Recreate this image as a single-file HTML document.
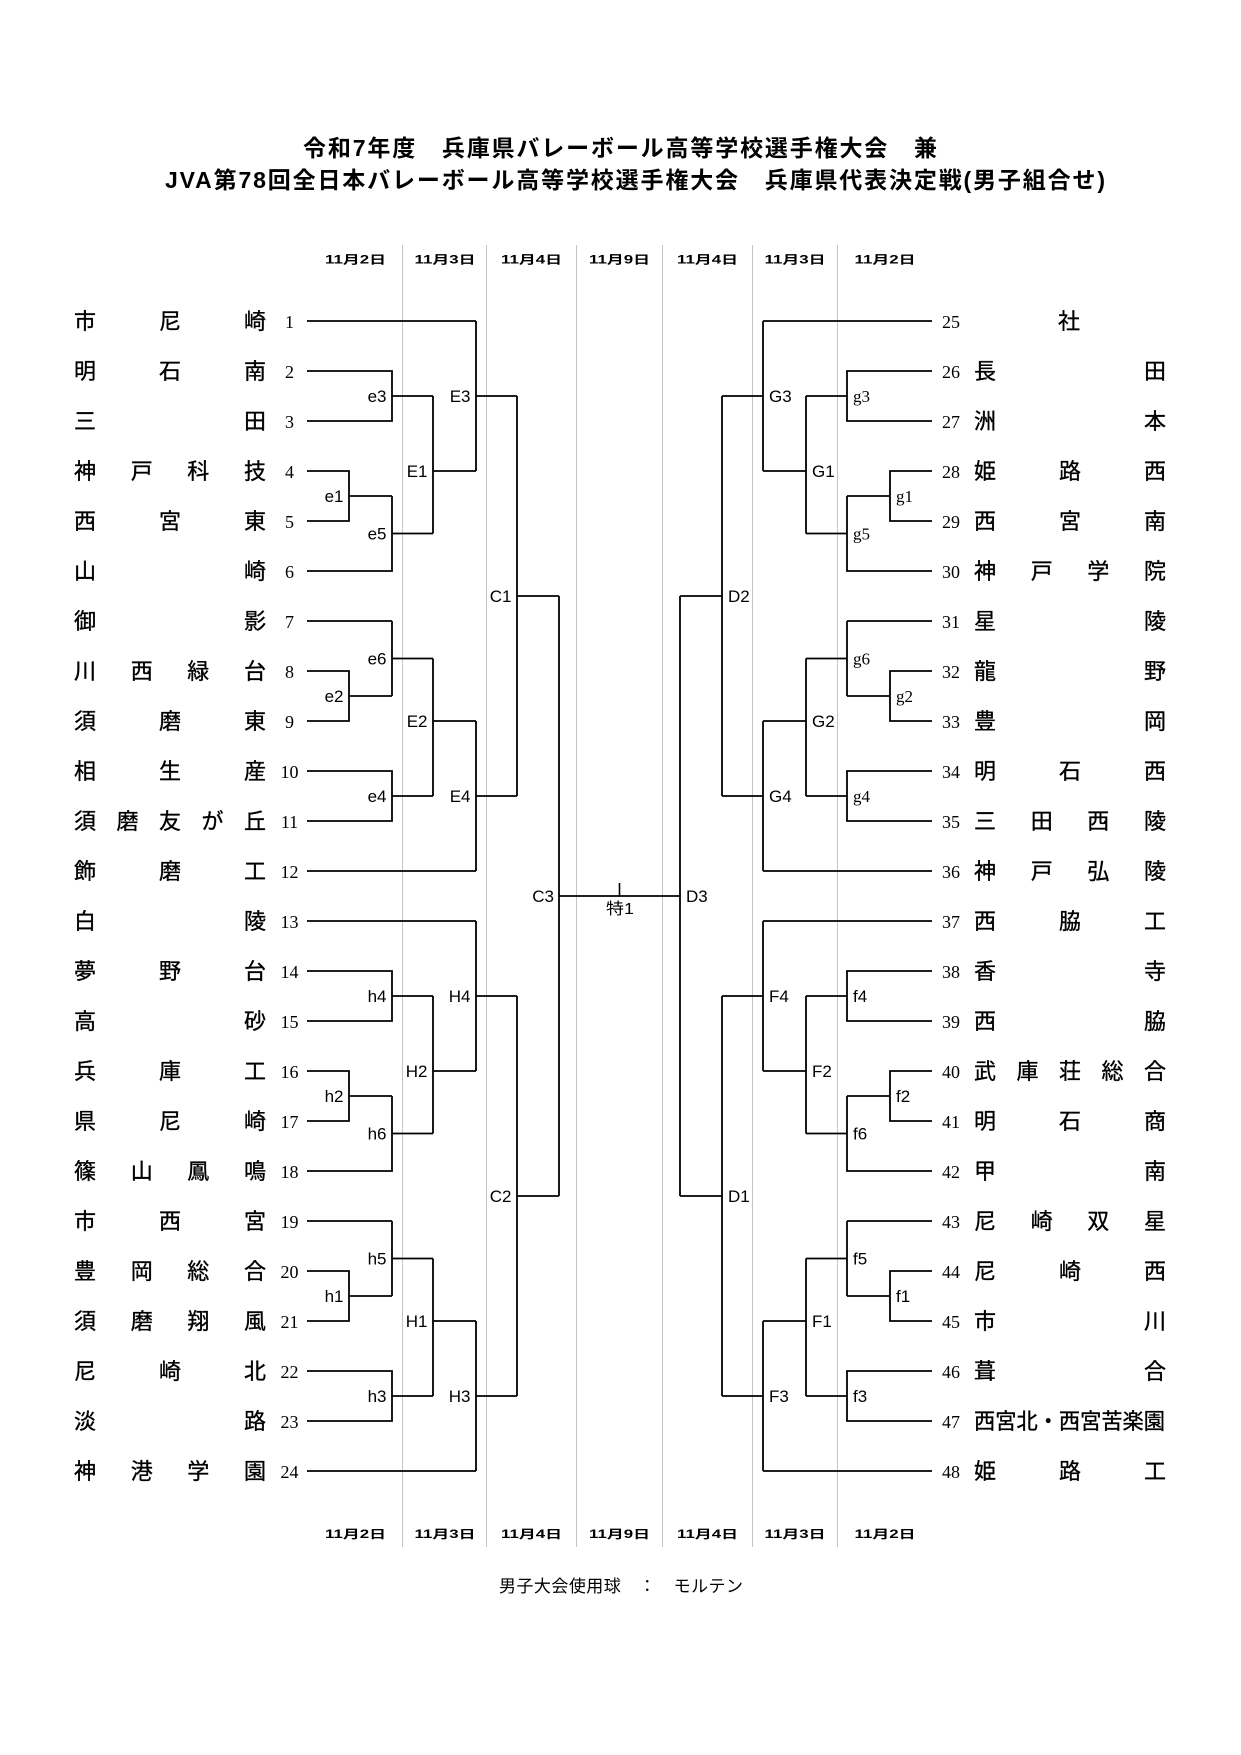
<!DOCTYPE html>
<html lang="ja">
<head>
<meta charset="utf-8">
<style>
html,body{margin:0;padding:0;background:#fff;}
body{width:1241px;height:1755px;overflow:hidden;}
svg{display:block;}
.nm{font-family:"Liberation Sans","Noto Sans CJK JP",sans-serif;font-size:22px;fill:#000;stroke:#000;stroke-width:0.35px;}
.no{font-family:"Liberation Serif","Noto Serif CJK SC",serif;font-size:18px;fill:#000;text-anchor:middle;}
.lbL{font-family:"Liberation Sans","Noto Sans CJK JP",sans-serif;font-size:17px;fill:#000;text-anchor:end;}
.lbR{font-family:"Liberation Sans","Noto Sans CJK JP",sans-serif;font-size:17px;fill:#000;text-anchor:start;}
.lbS{font-family:"Liberation Serif","Noto Serif CJK SC",serif;font-size:17px;fill:#000;text-anchor:start;}
.dt{font-family:"Liberation Sans","Noto Sans CJK JP",sans-serif;font-size:11.5px;font-weight:bold;fill:#000;}
.tt{font-family:"Liberation Sans","Noto Sans CJK JP",sans-serif;font-size:23px;font-weight:bold;fill:#000;}
.ft{font-family:"Liberation Sans","Noto Sans CJK JP",sans-serif;font-size:17px;fill:#000;}
</style>
</head>
<body>
<svg width="1241" height="1755" viewBox="0 0 1241 1755" xmlns="http://www.w3.org/2000/svg">
<rect width="1241" height="1755" fill="#fff"/>

<!-- Title -->
<text class="tt" x="303" y="156" textLength="634" lengthAdjust="spacing">令和7年度　兵庫県バレーボール高等学校選手権大会　兼</text>
<text class="tt" x="165" y="188" textLength="940" lengthAdjust="spacing">JVA第78回全日本バレーボール高等学校選手権大会　兵庫県代表決定戦(男子組合せ)</text>

<!-- Gray column lines -->
<g stroke="#c4c4c4" stroke-width="1">
<line x1="402.5" y1="245" x2="402.5" y2="1547"/>
<line x1="486.5" y1="245" x2="486.5" y2="1547"/>
<line x1="576.5" y1="245" x2="576.5" y2="1547"/>
<line x1="662.5" y1="245" x2="662.5" y2="1547"/>
<line x1="752.5" y1="245" x2="752.5" y2="1547"/>
<line x1="837.5" y1="245" x2="837.5" y2="1547"/>
</g>

<!-- Dates top -->
<g class="dt">
<text x="325" y="263.5" textLength="61" lengthAdjust="spacingAndGlyphs">11月2日</text>
<text x="414.5" y="263.5" textLength="61" lengthAdjust="spacingAndGlyphs">11月3日</text>
<text x="501" y="263.5" textLength="61" lengthAdjust="spacingAndGlyphs">11月4日</text>
<text x="589" y="263.5" textLength="61" lengthAdjust="spacingAndGlyphs">11月9日</text>
<text x="677" y="263.5" textLength="61" lengthAdjust="spacingAndGlyphs">11月4日</text>
<text x="764.5" y="263.5" textLength="61" lengthAdjust="spacingAndGlyphs">11月3日</text>
<text x="854.5" y="263.5" textLength="61" lengthAdjust="spacingAndGlyphs">11月2日</text>
</g>
<!-- Dates bottom -->
<g class="dt">
<text x="325" y="1538" textLength="61" lengthAdjust="spacingAndGlyphs">11月2日</text>
<text x="414.5" y="1538" textLength="61" lengthAdjust="spacingAndGlyphs">11月3日</text>
<text x="501" y="1538" textLength="61" lengthAdjust="spacingAndGlyphs">11月4日</text>
<text x="589" y="1538" textLength="61" lengthAdjust="spacingAndGlyphs">11月9日</text>
<text x="677" y="1538" textLength="61" lengthAdjust="spacingAndGlyphs">11月4日</text>
<text x="764.5" y="1538" textLength="61" lengthAdjust="spacingAndGlyphs">11月3日</text>
<text x="854.5" y="1538" textLength="61" lengthAdjust="spacingAndGlyphs">11月2日</text>
</g>

<!-- Bracket lines (left) -->
<g fill="none" stroke="#000" stroke-width="1.8">
<path d="
M307 321H476
M307 371H392V421H307
M392 396H433
M307 471H349V521H307
M349 496H392
M307 571H392V496
M392 533.5H433
M433 396V533.5
M433 471H476
M476 321V471
M476 396H517

M307 621H392
M307 671H349V721H307
M349 696H392
M392 621V696
M392 658.5H433
M307 771H392V821H307
M392 796H433
M433 658.5V796
M433 721H476
M307 871H476
M476 721V871
M476 796H517

M307 921H476
M307 971H392V1021H307
M392 996H433
M307 1071H349V1121H307
M349 1096H392
M307 1171H392V1096
M392 1133.5H433
M433 996V1133.5
M433 1071H476
M476 921V1071
M476 996H517

M307 1221H392
M307 1271H349V1321H307
M349 1296H392
M392 1221V1296
M392 1258.5H433
M307 1371H392V1421H307
M392 1396H433
M433 1258.5V1396
M433 1321H476
M307 1471H476
M476 1321V1471
M476 1396H517

M517 396V796
M517 596H559
M517 996V1396
M517 1196H559
M559 596V1196
M559 896H680
"/>
</g>
<!-- Bracket lines (right, mirrored) -->
<g fill="none" stroke="#000" stroke-width="1.8" transform="translate(1239,0) scale(-1,1)">
<path d="
M307 321H476
M307 371H392V421H307
M392 396H433
M307 471H349V521H307
M349 496H392
M307 571H392V496
M392 533.5H433
M433 396V533.5
M433 471H476
M476 321V471
M476 396H517

M307 621H392
M307 671H349V721H307
M349 696H392
M392 621V696
M392 658.5H433
M307 771H392V821H307
M392 796H433
M433 658.5V796
M433 721H476
M307 871H476
M476 721V871
M476 796H517

M307 921H476
M307 971H392V1021H307
M392 996H433
M307 1071H349V1121H307
M349 1096H392
M307 1171H392V1096
M392 1133.5H433
M433 996V1133.5
M433 1071H476
M476 921V1071
M476 996H517

M307 1221H392
M307 1271H349V1321H307
M349 1296H392
M392 1221V1296
M392 1258.5H433
M307 1371H392V1421H307
M392 1396H433
M433 1258.5V1396
M433 1321H476
M307 1471H476
M476 1321V1471
M476 1396H517

M517 396V796
M517 596H559
M517 996V1396
M517 1196H559
M559 596V1196
"/>
</g>
<!-- Center tick -->
<line x1="619.5" y1="883" x2="619.5" y2="896" stroke="#000" stroke-width="1.6"/>
<text x="606" y="914" textLength="28" lengthAdjust="spacingAndGlyphs" style="font-family:'Liberation Sans','Noto Sans CJK JP',sans-serif;font-size:16px;">特1</text>

<!-- Left labels -->
<g class="lbL">
<text x="386.5" y="402">e3</text>
<text x="343.5" y="502">e1</text>
<text x="386.5" y="539.5">e5</text>
<text x="427.5" y="477">E1</text>
<text x="470.5" y="402">E3</text>

<text x="386.5" y="664.5">e6</text>
<text x="343.5" y="702">e2</text>
<text x="386.5" y="802">e4</text>
<text x="427.5" y="727">E2</text>
<text x="470.5" y="802">E4</text>

<text x="386.5" y="1002">h4</text>
<text x="343.5" y="1102">h2</text>
<text x="386.5" y="1139.5">h6</text>
<text x="427.5" y="1077">H2</text>
<text x="470.5" y="1002">H4</text>

<text x="386.5" y="1264.5">h5</text>
<text x="343.5" y="1302">h1</text>
<text x="386.5" y="1402">h3</text>
<text x="427.5" y="1327">H1</text>
<text x="470.5" y="1402">H3</text>

<text x="511.5" y="602">C1</text>
<text x="511.5" y="1202">C2</text>
<text x="554" y="902">C3</text>
</g>

<!-- Right labels -->
<g class="lbS">
<text x="853" y="402">g3</text>
<text x="896" y="502">g1</text>
<text x="853" y="539.5">g5</text>
<text x="853" y="664.5">g6</text>
<text x="896" y="702">g2</text>
<text x="853" y="802">g4</text>
</g>
<g class="lbR">
<text x="812" y="477">G1</text>
<text x="769" y="402">G3</text>
<text x="812" y="727">G2</text>
<text x="769" y="802">G4</text>

<text x="853" y="1002">f4</text>
<text x="896" y="1102">f2</text>
<text x="853" y="1139.5">f6</text>
<text x="812" y="1077">F2</text>
<text x="769" y="1002">F4</text>

<text x="853" y="1264.5">f5</text>
<text x="896" y="1302">f1</text>
<text x="853" y="1402">f3</text>
<text x="812" y="1327">F1</text>
<text x="769" y="1402">F3</text>

<text x="728" y="602">D2</text>
<text x="728" y="1202">D1</text>
<text x="686" y="902">D3</text>
</g>

<!-- Left names -->
<g class="nm">
<text x="74 159 244" y="329">市尼崎</text>
<text x="74 159 244" y="379">明石南</text>
<text x="74 244" y="429">三田</text>
<text x="74 130.7 187.3 244" y="479">神戸科技</text>
<text x="74 159 244" y="529">西宮東</text>
<text x="74 244" y="579">山崎</text>
<text x="74 244" y="629">御影</text>
<text x="74 130.7 187.3 244" y="679">川西緑台</text>
<text x="74 159 244" y="729">須磨東</text>
<text x="74 159 244" y="779">相生産</text>
<text x="74 116.5 159 201.5 244" y="829">須磨友が丘</text>
<text x="74 159 244" y="879">飾磨工</text>
<text x="74 244" y="929">白陵</text>
<text x="74 159 244" y="979">夢野台</text>
<text x="74 244" y="1029">高砂</text>
<text x="74 159 244" y="1079">兵庫工</text>
<text x="74 159 244" y="1129">県尼崎</text>
<text x="74 130.7 187.3 244" y="1179">篠山鳳鳴</text>
<text x="74 159 244" y="1229">市西宮</text>
<text x="74 130.7 187.3 244" y="1279">豊岡総合</text>
<text x="74 130.7 187.3 244" y="1329">須磨翔風</text>
<text x="74 159 244" y="1379">尼崎北</text>
<text x="74 244" y="1429">淡路</text>
<text x="74 130.7 187.3 244" y="1479">神港学園</text>
</g>

<!-- Left numbers -->
<g class="no">
<text x="289.5" y="328">1</text>
<text x="289.5" y="378">2</text>
<text x="289.5" y="428">3</text>
<text x="289.5" y="478">4</text>
<text x="289.5" y="528">5</text>
<text x="289.5" y="578">6</text>
<text x="289.5" y="628">7</text>
<text x="289.5" y="678">8</text>
<text x="289.5" y="728">9</text>
<text x="289.5" y="778">10</text>
<text x="289.5" y="828">11</text>
<text x="289.5" y="878">12</text>
<text x="289.5" y="928">13</text>
<text x="289.5" y="978">14</text>
<text x="289.5" y="1028">15</text>
<text x="289.5" y="1078">16</text>
<text x="289.5" y="1128">17</text>
<text x="289.5" y="1178">18</text>
<text x="289.5" y="1228">19</text>
<text x="289.5" y="1278">20</text>
<text x="289.5" y="1328">21</text>
<text x="289.5" y="1378">22</text>
<text x="289.5" y="1428">23</text>
<text x="289.5" y="1478">24</text>
</g>

<!-- Right numbers -->
<g class="no">
<text x="951" y="328">25</text>
<text x="951" y="378">26</text>
<text x="951" y="428">27</text>
<text x="951" y="478">28</text>
<text x="951" y="528">29</text>
<text x="951" y="578">30</text>
<text x="951" y="628">31</text>
<text x="951" y="678">32</text>
<text x="951" y="728">33</text>
<text x="951" y="778">34</text>
<text x="951" y="828">35</text>
<text x="951" y="878">36</text>
<text x="951" y="928">37</text>
<text x="951" y="978">38</text>
<text x="951" y="1028">39</text>
<text x="951" y="1078">40</text>
<text x="951" y="1128">41</text>
<text x="951" y="1178">42</text>
<text x="951" y="1228">43</text>
<text x="951" y="1278">44</text>
<text x="951" y="1328">45</text>
<text x="951" y="1378">46</text>
<text x="951" y="1428">47</text>
<text x="951" y="1478">48</text>
</g>

<!-- Right names -->
<g class="nm">
<text x="1058" y="329">社</text>
<text x="974 1144" y="379">長田</text>
<text x="974 1144" y="429">洲本</text>
<text x="974 1059 1144" y="479">姫路西</text>
<text x="974 1059 1144" y="529">西宮南</text>
<text x="974 1030.7 1087.3 1144" y="579">神戸学院</text>
<text x="974 1144" y="629">星陵</text>
<text x="974 1144" y="679">龍野</text>
<text x="974 1144" y="729">豊岡</text>
<text x="974 1059 1144" y="779">明石西</text>
<text x="974 1030.7 1087.3 1144" y="829">三田西陵</text>
<text x="974 1030.7 1087.3 1144" y="879">神戸弘陵</text>
<text x="974 1059 1144" y="929">西脇工</text>
<text x="974 1144" y="979">香寺</text>
<text x="974 1144" y="1029">西脇</text>
<text x="974 1016.5 1059 1101.5 1144" y="1079">武庫荘総合</text>
<text x="974 1059 1144" y="1129">明石商</text>
<text x="974 1144" y="1179">甲南</text>
<text x="974 1030.7 1087.3 1144" y="1229">尼崎双星</text>
<text x="974 1059 1144" y="1279">尼崎西</text>
<text x="974 1144" y="1329">市川</text>
<text x="974 1144" y="1379">葺合</text>
<text x="974" y="1429" textLength="191" lengthAdjust="spacingAndGlyphs">西宮北・西宮苦楽園</text>
<text x="974 1059 1144" y="1479">姫路工</text>
</g>

<!-- Footer -->
<text class="ft" x="499" y="1592" textLength="244" lengthAdjust="spacing">男子大会使用球　：　モルテン</text>
</svg>
</body>
</html>
